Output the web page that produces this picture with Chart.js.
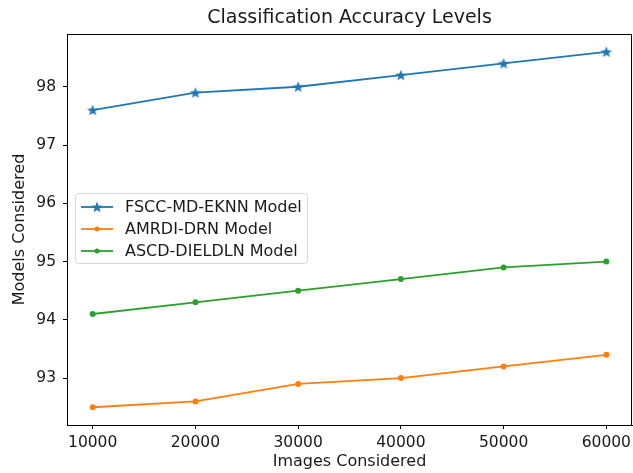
<!DOCTYPE html>
<html>
<head>
<meta charset="utf-8">
<script src="https://cdn.jsdelivr.net/npm/chart.js@4/dist/chart.umd.min.js"></script>
<style>
  html, body { margin: 0; padding: 0; background: #fff; }
  #wrap { width: 633px; height: 473px; }
</style>
</head>
<body>
<div id="wrap"><canvas id="accChart" width="633" height="473"></canvas></div>
<script>
const images = [10000, 20000, 30000, 40000, 50000, 60000];
const fsccValues = [97.6, 97.9, 98.0, 98.2, 98.4, 98.6];
const amrdiValues = [92.5, 92.6, 92.9, 93.0, 93.2, 93.4];
const ascdValues = [94.1, 94.3, 94.5, 94.7, 94.9, 95.0];
const seriesNames = ['FSCC-MD-EKNN Model', 'AMRDI-DRN Model', 'ASCD-DIELDLN Model'];
const xTicks = [10000, 20000, 30000, 40000, 50000, 60000];
const yTicks = [93, 94, 95, 96, 97, 98];
const chartTitle = 'Classification Accuracy Levels';

const FONT = "'DejaVu Sans', sans-serif";

// filled five point star like matplotlib's '*'
function makeStar(color, r) {
  const size = Math.ceil(r * 2 + 2);
  const c = document.createElement('canvas');
  c.width = size; c.height = size;
  const g = c.getContext('2d');
  const cx = size / 2, cy = size / 2 + 0.5;
  g.beginPath();
  for (let i = 0; i < 10; i++) {
    const rad = i % 2 === 0 ? r : r * 0.42;
    const a = -Math.PI / 2 + i * Math.PI / 5;
    const px = cx + rad * Math.cos(a), py = cy + rad * Math.sin(a);
    if (i === 0) g.moveTo(px, py); else g.lineTo(px, py);
  }
  g.closePath();
  g.fillStyle = color;
  g.fill();
  return c;
}

const starImg = makeStar('#1f77b4', 6);

function toPoints(values) {
  return images.map((x, i) => ({ x: x, y: values[i] }));
}

// title centred over the plot area, plus the full axes frame
const frameBox = {
  id: 'frameBox',
  afterDatasetsDraw(chart) {
    const { ctx, chartArea } = chart;
    ctx.save();
    ctx.strokeStyle = '#000';
    ctx.lineWidth = 1;
    ctx.strokeRect(Math.round(chartArea.left) + 0.5, Math.round(chartArea.top) + 0.5,
      Math.round(chartArea.right - chartArea.left) - 1, Math.round(chartArea.bottom - chartArea.top));
    ctx.font = '19px ' + FONT;
    ctx.fillStyle = '#1a1a1a';
    ctx.textAlign = 'center';
    ctx.textBaseline = 'middle';
    ctx.fillText(chartTitle, (chartArea.left + chartArea.right) / 2, 18.5);
    ctx.restore();
  }
};

const boxLegend = {
  id: 'boxLegend',
  afterDraw(chart) {
    const ctx = chart.ctx;
    const x0 = 75.5, y0 = 193.5, w = 232, h = 70;
    ctx.save();
    ctx.beginPath();
    ctx.roundRect(x0, y0, w, h, 3);
    ctx.fillStyle = 'rgba(255,255,255,0.8)';
    ctx.fill();
    ctx.strokeStyle = '#d6d6d6';
    ctx.lineWidth = 1;
    ctx.stroke();
    ctx.font = '16px ' + FONT;
    ctx.textBaseline = 'middle';
    chart.data.datasets.forEach((ds, i) => {
      const y = 207 + i * 22;
      ctx.strokeStyle = ds.borderColor;
      ctx.lineWidth = 1.8;
      ctx.beginPath();
      ctx.moveTo(81, y);
      ctx.lineTo(113, y);
      ctx.stroke();
      if (ds.pointStyle instanceof HTMLCanvasElement) {
        const s = ds.pointStyle;
        ctx.drawImage(s, 97 - s.width / 2, y - s.height / 2);
      } else {
        ctx.fillStyle = ds.borderColor;
        ctx.beginPath();
        ctx.arc(97, y, 2.5, 0, Math.PI * 2);
        ctx.fill();
      }
      ctx.fillStyle = '#1a1a1a';
      ctx.fillText(ds.label, 125, y + 1);
    });
    ctx.restore();
  }
};

new Chart(document.getElementById('accChart'), {
  type: 'line',
  data: {
    datasets: [
      {
        label: seriesNames[0],
        data: toPoints(fsccValues),
        borderColor: '#1f77b4',
        backgroundColor: '#1f77b4',
        borderWidth: 1.8,
        pointStyle: starImg,
        tension: 0
      },
      {
        label: seriesNames[1],
        data: toPoints(amrdiValues),
        borderColor: '#ff7f0e',
        backgroundColor: '#ff7f0e',
        borderWidth: 1.8,
        pointRadius: 3,
        pointBorderWidth: 0,
        tension: 0
      },
      {
        label: seriesNames[2],
        data: toPoints(ascdValues),
        borderColor: '#2ca02c',
        backgroundColor: '#2ca02c',
        borderWidth: 1.8,
        pointRadius: 3,
        pointBorderWidth: 0,
        tension: 0
      }
    ]
  },
  options: {
    responsive: false,
    animation: false,
    layout: { autoPadding: false, padding: { left: 0, right: 1, top: 34, bottom: 0 } },
    plugins: {
      legend: { display: false },
      tooltip: { enabled: false },
      title: { display: false }
    },
    scales: {
      x: {
        type: 'linear',
        min: 7500,
        max: 62500,
        afterBuildTicks(scale) {
          scale.ticks = xTicks.map(v => ({ value: v }));
        },
        afterFit(scale) {
          scale.height = 48;
          scale.paddingRight = 0;
          scale.paddingLeft = 0;
        },
        grid: { drawOnChartArea: false, drawTicks: true, tickLength: 4, color: '#000' },
        border: { display: true, color: '#000' },
        ticks: {
          color: '#1a1a1a',
          padding: 5,
          maxRotation: 0,
          font: { family: FONT, size: 15.5 },
          callback: v => String(v)
        },
        title: {
          display: true,
          text: 'Images Considered',
          color: '#1a1a1a',
          font: { family: FONT, size: 16 },
          padding: { top: 0, bottom: 2 }
        }
      },
      y: {
        min: 92.195,
        max: 98.905,
        afterBuildTicks(scale) {
          scale.ticks = yTicks.map(v => ({ value: v }));
        },
        afterFit(scale) {
          scale.width = 67;
          scale.paddingTop = 0;
          scale.paddingBottom = 0;
        },
        grid: { drawOnChartArea: false, drawTicks: true, tickLength: 4, color: '#000' },
        border: { display: true, color: '#000' },
        ticks: {
          color: '#1a1a1a',
          padding: 7,
          font: { family: FONT, size: 15.5 },
          callback: v => String(v)
        },
        title: {
          display: true,
          text: 'Models Considered',
          color: '#1a1a1a',
          font: { family: FONT, size: 16 },
          padding: { top: 10, bottom: 0 }
        }
      }
    }
  },
  plugins: [frameBox, boxLegend]
});
</script>
</body>
</html>
